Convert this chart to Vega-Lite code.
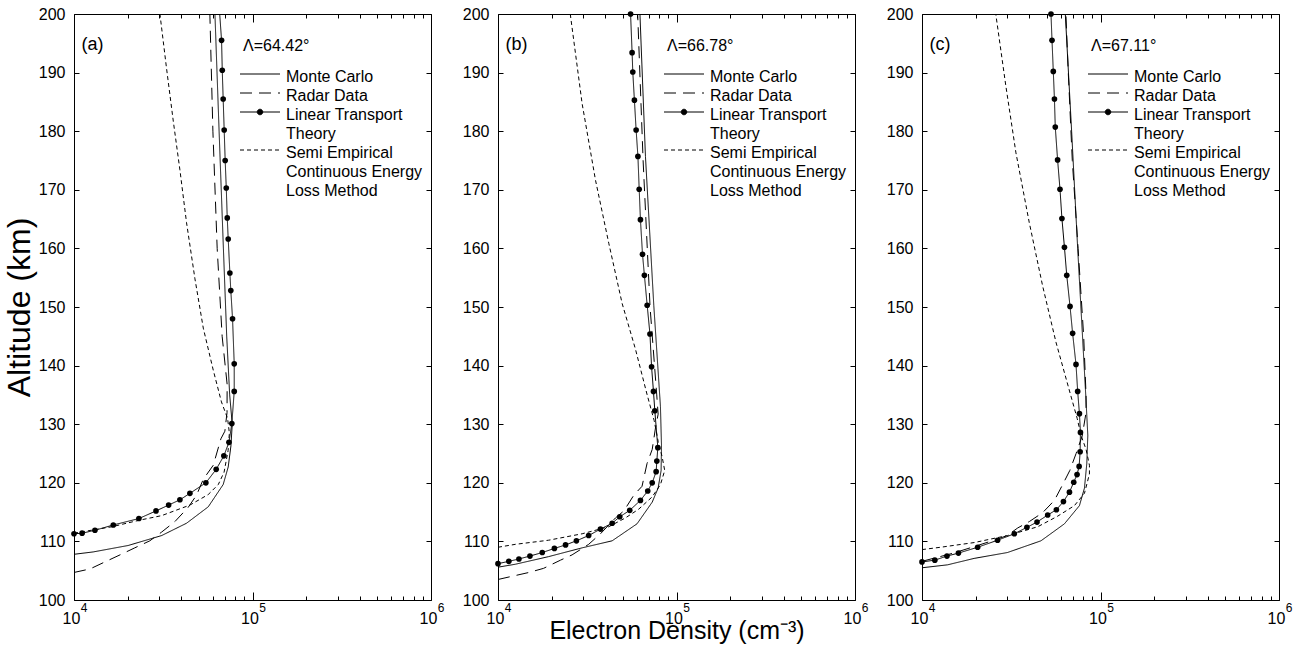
{
  "$schema": "https://vega.github.io/schema/vega-lite/v6.json",
  "background": "white",
  "padding": {"left": 2, "top": 5, "right": 5, "bottom": 0},
  "bounds": "flush",
  "spacing": 67,
  "config": {
    "view": {"stroke": "black", "strokeWidth": 1},
    "font": "Liberation Sans",
    "axis": {"grid": false, "domain": false, "tickColor": "black", "tickWidth": 1, "labelColor": "black", "titleColor": "black", "labelFont": "Liberation Sans", "titleFont": "Liberation Sans", "labelFontSize": 16, "titleFontWeight": "normal"},
    "legend": {"orient": "none", "legendX": 169, "legendY": 24, "padding": 0,
      "titleFont": "Liberation Sans", "titleFontSize": 16, "titleFontWeight": "normal", "titleColor": "black", "titlePadding": 12,
      "labelFont": "Liberation Sans", "labelFontSize": 16, "labelColor": "black", "labelBaseline": "top", "labelOffset": 18, "labelLimit": 300,
      "symbolType": "M-4,0H4", "symbolSize": 100, "symbolOffset": 9, "symbolStrokeWidth": 1, "symbolStrokeColor": "black", "symbolFillColor": "black",
      "rowPadding": 0}
  },
  "resolve": {"scale": {"strokeDash": "independent"}, "legend": {"strokeDash": "independent"}},
  "datasets": {
    "pa": [
      {"series": "MC", "density": 10000, "altitude": 107.8},
      {"series": "MC", "density": 12800, "altitude": 108.2},
      {"series": "MC", "density": 20100, "altitude": 109.3},
      {"series": "MC", "density": 31000, "altitude": 111.0},
      {"series": "MC", "density": 42700, "altitude": 113.1},
      {"series": "MC", "density": 56500, "altitude": 115.9},
      {"series": "MC", "density": 68500, "altitude": 119.7},
      {"series": "MC", "density": 73100, "altitude": 122.7},
      {"series": "MC", "density": 75700, "altitude": 126.3},
      {"series": "MC", "density": 77000, "altitude": 130.0},
      {"series": "MC", "density": 74500, "altitude": 135.0},
      {"series": "MC", "density": 71700, "altitude": 145.0},
      {"series": "MC", "density": 68700, "altitude": 160.0},
      {"series": "MC", "density": 65000, "altitude": 180.0},
      {"series": "MC", "density": 61600, "altitude": 200.0},
      {"series": "RD", "density": 10000, "altitude": 104.7},
      {"series": "RD", "density": 12300, "altitude": 105.3},
      {"series": "RD", "density": 14900, "altitude": 106.5},
      {"series": "RD", "density": 18100, "altitude": 107.7},
      {"series": "RD", "density": 21900, "altitude": 108.9},
      {"series": "RD", "density": 26600, "altitude": 110.1},
      {"series": "RD", "density": 31000, "altitude": 111.6},
      {"series": "RD", "density": 36800, "altitude": 113.4},
      {"series": "RD", "density": 43600, "altitude": 115.8},
      {"series": "RD", "density": 48600, "altitude": 117.9},
      {"series": "RD", "density": 53000, "altitude": 120.6},
      {"series": "RD", "density": 60300, "altitude": 123.0},
      {"series": "RD", "density": 66500, "altitude": 127.5},
      {"series": "RD", "density": 70000, "altitude": 128.8},
      {"series": "RD", "density": 72000, "altitude": 132.0},
      {"series": "RD", "density": 72100, "altitude": 136.8},
      {"series": "RD", "density": 67600, "altitude": 145.0},
      {"series": "RD", "density": 63400, "altitude": 160.0},
      {"series": "RD", "density": 60000, "altitude": 180.0},
      {"series": "RD", "density": 57700, "altitude": 200.0},
      {"series": "LTT", "density": 10000, "altitude": 111.3},
      {"series": "LTT", "density": 11100, "altitude": 111.4},
      {"series": "LTT", "density": 13100, "altitude": 111.9},
      {"series": "LTT", "density": 16600, "altitude": 112.8},
      {"series": "LTT", "density": 23100, "altitude": 113.9},
      {"series": "LTT", "density": 28800, "altitude": 115.2},
      {"series": "LTT", "density": 33900, "altitude": 116.2},
      {"series": "LTT", "density": 39200, "altitude": 117.1},
      {"series": "LTT", "density": 44600, "altitude": 118.2},
      {"series": "LTT", "density": 54800, "altitude": 120.0},
      {"series": "LTT", "density": 62600, "altitude": 122.3},
      {"series": "LTT", "density": 69100, "altitude": 124.6},
      {"series": "LTT", "density": 73800, "altitude": 126.9},
      {"series": "LTT", "density": 76600, "altitude": 130.1},
      {"series": "LTT", "density": 79000, "altitude": 135.6},
      {"series": "LTT", "density": 79000, "altitude": 140.3},
      {"series": "LTT", "density": 77300, "altitude": 148.0},
      {"series": "LTT", "density": 75600, "altitude": 152.8},
      {"series": "LTT", "density": 74700, "altitude": 155.8},
      {"series": "LTT", "density": 73100, "altitude": 161.6},
      {"series": "LTT", "density": 72200, "altitude": 165.2},
      {"series": "LTT", "density": 71300, "altitude": 170.3},
      {"series": "LTT", "density": 70300, "altitude": 175.0},
      {"series": "LTT", "density": 69400, "altitude": 180.2},
      {"series": "LTT", "density": 68500, "altitude": 185.5},
      {"series": "LTT", "density": 67700, "altitude": 190.4},
      {"series": "LTT", "density": 67100, "altitude": 195.5},
      {"series": "LTT", "density": 65500, "altitude": 200.0},
      {"series": "SE", "density": 10000, "altitude": 111.4},
      {"series": "SE", "density": 16300, "altitude": 112.5},
      {"series": "SE", "density": 23100, "altitude": 113.6},
      {"series": "SE", "density": 31000, "altitude": 114.4},
      {"series": "SE", "density": 44600, "altitude": 116.2},
      {"series": "SE", "density": 56500, "altitude": 118.0},
      {"series": "SE", "density": 64300, "altitude": 119.7},
      {"series": "SE", "density": 69300, "altitude": 121.8},
      {"series": "SE", "density": 73000, "altitude": 125.5},
      {"series": "SE", "density": 74200, "altitude": 128.5},
      {"series": "SE", "density": 72500, "altitude": 131.0},
      {"series": "SE", "density": 67000, "altitude": 133.8},
      {"series": "SE", "density": 60300, "altitude": 139.2},
      {"series": "SE", "density": 53000, "altitude": 146.4},
      {"series": "SE", "density": 47600, "altitude": 154.8},
      {"series": "SE", "density": 42700, "altitude": 164.4},
      {"series": "SE", "density": 39200, "altitude": 173.4},
      {"series": "SE", "density": 36000, "altitude": 181.7},
      {"series": "SE", "density": 33000, "altitude": 190.7},
      {"series": "SE", "density": 30300, "altitude": 200.0}
    ],
    "pb": [
      {"series": "MC", "density": 10000, "altitude": 105.6},
      {"series": "MC", "density": 12500, "altitude": 106.1},
      {"series": "MC", "density": 19200, "altitude": 107.4},
      {"series": "MC", "density": 29600, "altitude": 108.9},
      {"series": "MC", "density": 43600, "altitude": 110.1},
      {"series": "MC", "density": 60100, "altitude": 113.0},
      {"series": "MC", "density": 73100, "altitude": 116.7},
      {"series": "MC", "density": 78900, "altitude": 119.1},
      {"series": "MC", "density": 82000, "altitude": 122.1},
      {"series": "MC", "density": 82400, "altitude": 126.3},
      {"series": "MC", "density": 81300, "altitude": 133.0},
      {"series": "MC", "density": 74600, "altitude": 150.3},
      {"series": "MC", "density": 67000, "altitude": 175.7},
      {"series": "MC", "density": 62400, "altitude": 200.0},
      {"series": "RD", "density": 10000, "altitude": 103.5},
      {"series": "RD", "density": 12200, "altitude": 104.1},
      {"series": "RD", "density": 14900, "altitude": 104.7},
      {"series": "RD", "density": 18000, "altitude": 105.4},
      {"series": "RD", "density": 22400, "altitude": 106.8},
      {"series": "RD", "density": 26000, "altitude": 107.7},
      {"series": "RD", "density": 32200, "altitude": 109.5},
      {"series": "RD", "density": 37500, "altitude": 111.3},
      {"series": "RD", "density": 45500, "altitude": 114.0},
      {"series": "RD", "density": 50700, "altitude": 115.2},
      {"series": "RD", "density": 57700, "altitude": 117.9},
      {"series": "RD", "density": 64100, "altitude": 119.4},
      {"series": "RD", "density": 68400, "altitude": 123.3},
      {"series": "RD", "density": 73100, "altitude": 125.7},
      {"series": "RD", "density": 76200, "altitude": 129.3},
      {"series": "RD", "density": 78900, "altitude": 131.7},
      {"series": "RD", "density": 77500, "altitude": 135.0},
      {"series": "RD", "density": 71100, "altitude": 150.0},
      {"series": "RD", "density": 65000, "altitude": 175.0},
      {"series": "RD", "density": 60600, "altitude": 200.0},
      {"series": "LTT", "density": 10000, "altitude": 106.2},
      {"series": "LTT", "density": 11500, "altitude": 106.6},
      {"series": "LTT", "density": 13100, "altitude": 107.0},
      {"series": "LTT", "density": 15100, "altitude": 107.5},
      {"series": "LTT", "density": 17700, "altitude": 108.1},
      {"series": "LTT", "density": 20700, "altitude": 108.8},
      {"series": "LTT", "density": 23900, "altitude": 109.4},
      {"series": "LTT", "density": 27500, "altitude": 110.1},
      {"series": "LTT", "density": 32200, "altitude": 111.0},
      {"series": "LTT", "density": 37500, "altitude": 112.1},
      {"series": "LTT", "density": 43600, "altitude": 113.1},
      {"series": "LTT", "density": 48100, "altitude": 114.2},
      {"series": "LTT", "density": 54700, "altitude": 115.3},
      {"series": "LTT", "density": 62800, "altitude": 117.0},
      {"series": "LTT", "density": 69000, "altitude": 118.6},
      {"series": "LTT", "density": 73100, "altitude": 120.0},
      {"series": "LTT", "density": 76900, "altitude": 121.9},
      {"series": "LTT", "density": 77600, "altitude": 123.7},
      {"series": "LTT", "density": 78600, "altitude": 126.0},
      {"series": "LTT", "density": 75600, "altitude": 132.3},
      {"series": "LTT", "density": 74300, "altitude": 135.6},
      {"series": "LTT", "density": 72500, "altitude": 139.8},
      {"series": "LTT", "density": 71000, "altitude": 145.4},
      {"series": "LTT", "density": 68500, "altitude": 150.3},
      {"series": "LTT", "density": 66100, "altitude": 155.4},
      {"series": "LTT", "density": 64500, "altitude": 159.0},
      {"series": "LTT", "density": 62800, "altitude": 164.9},
      {"series": "LTT", "density": 61800, "altitude": 170.1},
      {"series": "LTT", "density": 60800, "altitude": 175.7},
      {"series": "LTT", "density": 59400, "altitude": 180.2},
      {"series": "LTT", "density": 58100, "altitude": 185.3},
      {"series": "LTT", "density": 56900, "altitude": 190.1},
      {"series": "LTT", "density": 56400, "altitude": 193.4},
      {"series": "LTT", "density": 55300, "altitude": 200.0},
      {"series": "SE", "density": 10000, "altitude": 109.0},
      {"series": "SE", "density": 12500, "altitude": 109.5},
      {"series": "SE", "density": 19200, "altitude": 110.2},
      {"series": "SE", "density": 29600, "altitude": 111.3},
      {"series": "SE", "density": 41700, "altitude": 112.5},
      {"series": "SE", "density": 51700, "altitude": 114.0},
      {"series": "SE", "density": 61400, "altitude": 115.5},
      {"series": "SE", "density": 73100, "altitude": 117.6},
      {"series": "SE", "density": 81300, "altitude": 119.7},
      {"series": "SE", "density": 85900, "altitude": 122.1},
      {"series": "SE", "density": 83000, "altitude": 124.5},
      {"series": "SE", "density": 79000, "altitude": 127.0},
      {"series": "SE", "density": 75000, "altitude": 130.6},
      {"series": "SE", "density": 68500, "altitude": 135.0},
      {"series": "SE", "density": 58900, "altitude": 142.8},
      {"series": "SE", "density": 49600, "altitude": 150.6},
      {"series": "SE", "density": 41800, "altitude": 160.8},
      {"series": "SE", "density": 35200, "altitude": 171.6},
      {"series": "SE", "density": 29600, "altitude": 184.7},
      {"series": "SE", "density": 25400, "altitude": 200.0}
    ],
    "pc": [
      {"series": "MC", "density": 10000, "altitude": 105.5},
      {"series": "MC", "density": 13900, "altitude": 106.0},
      {"series": "MC", "density": 19600, "altitude": 107.1},
      {"series": "MC", "density": 30100, "altitude": 108.1},
      {"series": "MC", "density": 46400, "altitude": 110.1},
      {"series": "MC", "density": 62800, "altitude": 113.0},
      {"series": "MC", "density": 76200, "altitude": 116.1},
      {"series": "MC", "density": 81300, "altitude": 119.1},
      {"series": "MC", "density": 83800, "altitude": 123.3},
      {"series": "MC", "density": 84900, "altitude": 128.1},
      {"series": "MC", "density": 83000, "altitude": 134.0},
      {"series": "MC", "density": 74500, "altitude": 160.0},
      {"series": "MC", "density": 68900, "altitude": 180.0},
      {"series": "MC", "density": 63500, "altitude": 200.0},
      {"series": "RD", "density": 10000, "altitude": 106.6},
      {"series": "RD", "density": 15000, "altitude": 108.0},
      {"series": "RD", "density": 20000, "altitude": 109.2},
      {"series": "RD", "density": 26500, "altitude": 110.4},
      {"series": "RD", "density": 30000, "altitude": 111.0},
      {"series": "RD", "density": 34400, "altitude": 112.3},
      {"series": "RD", "density": 40000, "altitude": 113.4},
      {"series": "RD", "density": 47400, "altitude": 114.9},
      {"series": "RD", "density": 55200, "altitude": 117.0},
      {"series": "RD", "density": 61400, "altitude": 119.7},
      {"series": "RD", "density": 67300, "altitude": 122.1},
      {"series": "RD", "density": 73000, "altitude": 125.0},
      {"series": "RD", "density": 79000, "altitude": 128.0},
      {"series": "RD", "density": 83000, "altitude": 132.0},
      {"series": "RD", "density": 83000, "altitude": 135.0},
      {"series": "RD", "density": 80500, "altitude": 145.0},
      {"series": "RD", "density": 74900, "altitude": 160.0},
      {"series": "RD", "density": 69500, "altitude": 175.0},
      {"series": "RD", "density": 66000, "altitude": 190.0},
      {"series": "RD", "density": 64000, "altitude": 200.0},
      {"series": "LTT", "density": 10000, "altitude": 106.5},
      {"series": "LTT", "density": 11800, "altitude": 106.8},
      {"series": "LTT", "density": 13800, "altitude": 107.5},
      {"series": "LTT", "density": 16000, "altitude": 108.0},
      {"series": "LTT", "density": 20500, "altitude": 109.0},
      {"series": "LTT", "density": 26500, "altitude": 110.2},
      {"series": "LTT", "density": 32900, "altitude": 111.3},
      {"series": "LTT", "density": 38700, "altitude": 112.4},
      {"series": "LTT", "density": 44100, "altitude": 113.3},
      {"series": "LTT", "density": 50600, "altitude": 114.5},
      {"series": "LTT", "density": 56600, "altitude": 115.4},
      {"series": "LTT", "density": 62000, "altitude": 116.8},
      {"series": "LTT", "density": 67000, "altitude": 118.4},
      {"series": "LTT", "density": 70800, "altitude": 120.1},
      {"series": "LTT", "density": 73900, "altitude": 121.4},
      {"series": "LTT", "density": 75900, "altitude": 122.8},
      {"series": "LTT", "density": 76900, "altitude": 125.3},
      {"series": "LTT", "density": 77200, "altitude": 128.6},
      {"series": "LTT", "density": 76200, "altitude": 131.8},
      {"series": "LTT", "density": 74500, "altitude": 135.6},
      {"series": "LTT", "density": 72900, "altitude": 140.2},
      {"series": "LTT", "density": 69800, "altitude": 145.5},
      {"series": "LTT", "density": 67500, "altitude": 150.1},
      {"series": "LTT", "density": 64700, "altitude": 155.4},
      {"series": "LTT", "density": 62800, "altitude": 160.2},
      {"series": "LTT", "density": 60800, "altitude": 165.1},
      {"series": "LTT", "density": 59300, "altitude": 170.1},
      {"series": "LTT", "density": 57500, "altitude": 175.1},
      {"series": "LTT", "density": 55800, "altitude": 180.7},
      {"series": "LTT", "density": 55200, "altitude": 185.5},
      {"series": "LTT", "density": 54400, "altitude": 190.2},
      {"series": "LTT", "density": 53500, "altitude": 195.5},
      {"series": "LTT", "density": 52800, "altitude": 200.0},
      {"series": "SE", "density": 10000, "altitude": 108.6},
      {"series": "SE", "density": 12700, "altitude": 109.0},
      {"series": "SE", "density": 19600, "altitude": 109.8},
      {"series": "SE", "density": 30100, "altitude": 111.0},
      {"series": "SE", "density": 44500, "altitude": 112.5},
      {"series": "SE", "density": 57500, "altitude": 114.3},
      {"series": "SE", "density": 71400, "altitude": 116.1},
      {"series": "SE", "density": 81300, "altitude": 118.2},
      {"series": "SE", "density": 86700, "altitude": 121.5},
      {"series": "SE", "density": 86700, "altitude": 123.0},
      {"series": "SE", "density": 83000, "altitude": 125.7},
      {"series": "SE", "density": 77800, "altitude": 128.1},
      {"series": "SE", "density": 74000, "altitude": 131.0},
      {"series": "SE", "density": 68000, "altitude": 135.0},
      {"series": "SE", "density": 56300, "altitude": 144.0},
      {"series": "SE", "density": 47400, "altitude": 153.6},
      {"series": "SE", "density": 39900, "altitude": 164.4},
      {"series": "SE", "density": 33600, "altitude": 176.3},
      {"series": "SE", "density": 29500, "altitude": 187.7},
      {"series": "SE", "density": 25900, "altitude": 200.0}
    ]
  },
  "hconcat": [
    {
      "width": 357, "height": 586,
      "data": {"name": "pa"},
      "resolve": {"axis": {"x": "independent", "y": "independent"}},
      "layer": [
        {
          "mark": {"type": "line", "color": "black", "strokeWidth": 1, "clip": true},
          "encoding": {
            "x": {"field": "density", "type": "quantitative", "scale": {"type": "log", "domain": [10000, 1000000]},
              "axis": {"orient": "bottom", "title": null, "values": [10000,20000,30000,40000,50000,60000,70000,80000,90000,100000,200000,300000,400000,500000,600000,700000,800000,900000,1000000],
                "labelExpr": "datum.value == 10000 || datum.value == 100000 || datum.value == 1000000 ? '10' : ''",
                "tickSize": {"condition": {"test": "datum.value == 10000 || datum.value == 100000 || datum.value == 1000000", "value": -8}, "value": -4},
                "labelPadding": 18, "labelOffset": -3, "labelFlush": false, "labelOverlap": false, "labelBound": false}},
            "y": {"field": "altitude", "type": "quantitative", "scale": {"domain": [100, 200]},
              "axis": {"orient": "left", "title": "Altitude (km)", "titleFontSize": 32, "titlePadding": 2, "values": [100,110,120,130,140,150,160,170,180,190,200], "tickSize": -5, "labelPadding": 14}},
            "strokeDash": {"field": "series", "type": "nominal",
              "scale": {"domain": ["MC", "RD", "LTT", "SE"], "range": [[1,0],[12,7],[1,0],[4,3]]},
              "legend": {"title": "\u00a0\u00a0Λ=64.42°",
                "labelExpr": "datum.label == 'MC' ? 'Monte Carlo' : datum.label == 'RD' ? 'Radar Data' : datum.label == 'LTT' ? ['Linear Transport', 'Theory'] : ['Semi Empirical', 'Continuous Energy', 'Loss Method']",
                "encode": {"symbols": {"update": {"shape": {"signal": "datum.value == 'LTT' ? 'M-4,0H4M0.55,0A0.55,0.55,0,1,1,-0.55,0A0.55,0.55,0,1,1,0.55,0' : 'M-4,0H4'"}}},
                           "labels": {"update": {"dy": {"value": -5}, "lineHeight": {"value": 19}}}}}},
            "order": {"field": "altitude", "type": "quantitative"}
          }
        },
        {
          "transform": [{"filter": "datum.series == 'LTT' && datum.altitude < 199"}],
          "mark": {"type": "point", "filled": true, "color": "black", "size": 32, "opacity": 1},
          "encoding": {
            "x": {"field": "density", "type": "quantitative",
              "axis": {"orient": "top", "title": null, "labels": false, "values": [10000,20000,30000,40000,50000,60000,70000,80000,90000,100000,200000,300000,400000,500000,600000,700000,800000,900000,1000000],
                "tickSize": {"condition": {"test": "datum.value == 10000 || datum.value == 100000 || datum.value == 1000000", "value": -8}, "value": -4}}},
            "y": {"field": "altitude", "type": "quantitative",
              "axis": {"orient": "right", "title": null, "labels": false, "values": [100,110,120,130,140,150,160,170,180,190,200], "tickSize": -5}}
          }
        },
        {
          "data": {"values": [{"panel": "(a)"}]},
          "mark": {"type": "text", "font": "Liberation Sans", "fontSize": 18, "fontWeight": "normal", "align": "left", "baseline": "alphabetic", "color": "black"},
          "encoding": {
            "x": {"datum": 11000, "type": "quantitative",
              "axis": {"orient": "bottom", "title": null, "values": [10000, 100000, 1000000], "labelExpr": "datum.value == 10000 ? '4' : datum.value == 100000 ? '5' : '6'",
                "ticks": false, "tickSize": 0, "labelPadding": 2, "labelOffset": 9.5, "labelFontSize": 12, "labelFlush": false, "labelOverlap": false, "labelBound": false}},
            "y": {"datum": 193.8, "type": "quantitative", "axis": null},
            "text": {"field": "panel"}
          }
        }
      ]
    },
    {
      "width": 357, "height": 586,
      "data": {"name": "pb"},
      "resolve": {"axis": {"x": "independent", "y": "independent"}},
      "layer": [
        {
          "mark": {"type": "line", "color": "black", "strokeWidth": 1, "clip": true},
          "encoding": {
            "x": {"field": "density", "type": "quantitative", "scale": {"type": "log", "domain": [10000, 1000000]},
              "axis": {"orient": "bottom", "title": "Electron Density (cm⁻³)", "titleFontSize": 25, "titlePadding": -12, "values": [10000,20000,30000,40000,50000,60000,70000,80000,90000,100000,200000,300000,400000,500000,600000,700000,800000,900000,1000000],
                "labelExpr": "datum.value == 10000 || datum.value == 100000 || datum.value == 1000000 ? '10' : ''",
                "tickSize": {"condition": {"test": "datum.value == 10000 || datum.value == 100000 || datum.value == 1000000", "value": -8}, "value": -4},
                "labelPadding": 18, "labelOffset": -3, "labelFlush": false, "labelOverlap": false, "labelBound": false}},
            "y": {"field": "altitude", "type": "quantitative", "scale": {"domain": [100, 200]},
              "axis": {"orient": "left", "title": null, "values": [100,110,120,130,140,150,160,170,180,190,200], "tickSize": -5, "labelPadding": 14}},
            "strokeDash": {"field": "series", "type": "nominal",
              "scale": {"domain": ["MC", "RD", "LTT", "SE"], "range": [[1,0],[12,7],[1,0],[4,3]]},
              "legend": {"title": "\u00a0\u00a0Λ=66.78°",
                "labelExpr": "datum.label == 'MC' ? 'Monte Carlo' : datum.label == 'RD' ? 'Radar Data' : datum.label == 'LTT' ? ['Linear Transport', 'Theory'] : ['Semi Empirical', 'Continuous Energy', 'Loss Method']",
                "encode": {"symbols": {"update": {"shape": {"signal": "datum.value == 'LTT' ? 'M-4,0H4M0.55,0A0.55,0.55,0,1,1,-0.55,0A0.55,0.55,0,1,1,0.55,0' : 'M-4,0H4'"}}},
                           "labels": {"update": {"dy": {"value": -5}, "lineHeight": {"value": 19}}}}}},
            "order": {"field": "altitude", "type": "quantitative"}
          }
        },
        {
          "transform": [{"filter": "datum.series == 'LTT'"}],
          "mark": {"type": "point", "filled": true, "color": "black", "size": 32, "opacity": 1},
          "encoding": {
            "x": {"field": "density", "type": "quantitative",
              "axis": {"orient": "top", "title": null, "labels": false, "values": [10000,20000,30000,40000,50000,60000,70000,80000,90000,100000,200000,300000,400000,500000,600000,700000,800000,900000,1000000],
                "tickSize": {"condition": {"test": "datum.value == 10000 || datum.value == 100000 || datum.value == 1000000", "value": -8}, "value": -4}}},
            "y": {"field": "altitude", "type": "quantitative",
              "axis": {"orient": "right", "title": null, "labels": false, "values": [100,110,120,130,140,150,160,170,180,190,200], "tickSize": -5}}
          }
        },
        {
          "data": {"values": [{"panel": "(b)"}]},
          "mark": {"type": "text", "font": "Liberation Sans", "fontSize": 18, "fontWeight": "normal", "align": "left", "baseline": "alphabetic", "color": "black"},
          "encoding": {
            "x": {"datum": 11000, "type": "quantitative",
              "axis": {"orient": "bottom", "title": null, "values": [10000, 100000, 1000000], "labelExpr": "datum.value == 10000 ? '4' : datum.value == 100000 ? '5' : '6'",
                "ticks": false, "tickSize": 0, "labelPadding": 2, "labelOffset": 9.5, "labelFontSize": 12, "labelFlush": false, "labelOverlap": false, "labelBound": false}},
            "y": {"datum": 193.8, "type": "quantitative", "axis": null},
            "text": {"field": "panel"}
          }
        }
      ]
    },
    {
      "width": 357, "height": 586,
      "data": {"name": "pc"},
      "resolve": {"axis": {"x": "independent", "y": "independent"}},
      "layer": [
        {
          "mark": {"type": "line", "color": "black", "strokeWidth": 1, "clip": true},
          "encoding": {
            "x": {"field": "density", "type": "quantitative", "scale": {"type": "log", "domain": [10000, 1000000]},
              "axis": {"orient": "bottom", "title": null, "values": [10000,20000,30000,40000,50000,60000,70000,80000,90000,100000,200000,300000,400000,500000,600000,700000,800000,900000,1000000],
                "labelExpr": "datum.value == 10000 || datum.value == 100000 || datum.value == 1000000 ? '10' : ''",
                "tickSize": {"condition": {"test": "datum.value == 10000 || datum.value == 100000 || datum.value == 1000000", "value": -8}, "value": -4},
                "labelPadding": 18, "labelOffset": -3, "labelFlush": false, "labelOverlap": false, "labelBound": false}},
            "y": {"field": "altitude", "type": "quantitative", "scale": {"domain": [100, 200]},
              "axis": {"orient": "left", "title": null, "values": [100,110,120,130,140,150,160,170,180,190,200], "tickSize": -5, "labelPadding": 14}},
            "strokeDash": {"field": "series", "type": "nominal",
              "scale": {"domain": ["MC", "RD", "LTT", "SE"], "range": [[1,0],[12,7],[1,0],[4,3]]},
              "legend": {"title": "\u00a0\u00a0Λ=67.11°",
                "labelExpr": "datum.label == 'MC' ? 'Monte Carlo' : datum.label == 'RD' ? 'Radar Data' : datum.label == 'LTT' ? ['Linear Transport', 'Theory'] : ['Semi Empirical', 'Continuous Energy', 'Loss Method']",
                "encode": {"symbols": {"update": {"shape": {"signal": "datum.value == 'LTT' ? 'M-4,0H4M0.55,0A0.55,0.55,0,1,1,-0.55,0A0.55,0.55,0,1,1,0.55,0' : 'M-4,0H4'"}}},
                           "labels": {"update": {"dy": {"value": -5}, "lineHeight": {"value": 19}}}}}},
            "order": {"field": "altitude", "type": "quantitative"}
          }
        },
        {
          "transform": [{"filter": "datum.series == 'LTT'"}],
          "mark": {"type": "point", "filled": true, "color": "black", "size": 32, "opacity": 1},
          "encoding": {
            "x": {"field": "density", "type": "quantitative",
              "axis": {"orient": "top", "title": null, "labels": false, "values": [10000,20000,30000,40000,50000,60000,70000,80000,90000,100000,200000,300000,400000,500000,600000,700000,800000,900000,1000000],
                "tickSize": {"condition": {"test": "datum.value == 10000 || datum.value == 100000 || datum.value == 1000000", "value": -8}, "value": -4}}},
            "y": {"field": "altitude", "type": "quantitative",
              "axis": {"orient": "right", "title": null, "labels": false, "values": [100,110,120,130,140,150,160,170,180,190,200], "tickSize": -5}}
          }
        },
        {
          "data": {"values": [{"panel": "(c)"}]},
          "mark": {"type": "text", "font": "Liberation Sans", "fontSize": 18, "fontWeight": "normal", "align": "left", "baseline": "alphabetic", "color": "black"},
          "encoding": {
            "x": {"datum": 11000, "type": "quantitative",
              "axis": {"orient": "bottom", "title": null, "values": [10000, 100000, 1000000], "labelExpr": "datum.value == 10000 ? '4' : datum.value == 100000 ? '5' : '6'",
                "ticks": false, "tickSize": 0, "labelPadding": 2, "labelOffset": 9.5, "labelFontSize": 12, "labelFlush": false, "labelOverlap": false, "labelBound": false}},
            "y": {"datum": 193.8, "type": "quantitative", "axis": null},
            "text": {"field": "panel"}
          }
        }
      ]
    }
  ]
}
